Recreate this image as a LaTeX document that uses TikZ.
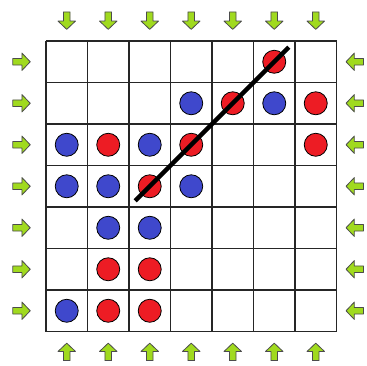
\documentclass[tikz,border=0pt]{standalone}
\usepackage{xcolor}
\usepackage{tikz}
\definecolor{dotred}{RGB}{237,28,36}
\definecolor{dotblue}{RGB}{63,72,204}
\definecolor{arrowgreen}{RGB}{160,218,30}
\tikzset{
  cellgrid/.style={line width=1.6pt, black!85},
  dot/.style={circle, draw=black, line width=0.8pt, minimum size=23pt, inner sep=0pt},
  red dot/.style={dot, fill=dotred},
  blue dot/.style={dot, fill=dotblue},
  diagline/.style={line width=4.5pt, black},
  greenarrow/.pic={
    \draw[black!70, line width=0.8pt, line join=round, fill=arrowgreen]
      (-0.2,-0.08) -- (0.02,-0.08) -- (0.02,-0.21) -- (0.22,0)
      -- (0.02,0.21) -- (0.02,0.08) -- (-0.2,0.08) -- cycle;}
}

\begin{document}
\begin{tikzpicture}[x=41.5pt, y=-41.5pt]
  \useasboundingbox (-1.108,-0.988) rectangle (7.735,7.807);
  % board
  \draw[cellgrid, step=41.5pt] (0,0) grid (7,7);
  % pieces: column/row/colour
  \foreach \c/\r/\clr in {6/1/red,
      4/2/blue, 5/2/red, 6/2/blue, 7/2/red,
      1/3/blue, 2/3/red, 3/3/blue, 4/3/red, 7/3/red,
      1/4/blue, 2/4/blue, 3/4/red, 4/4/blue,
      2/5/blue, 3/5/blue,
      2/6/red, 3/6/red,
      1/7/blue, 2/7/red, 3/7/red}
    \node[\clr\space dot] (dot-\c-\r) at (\c-0.5,\r-0.5) {};
  % winning line
  \coordinate (diagstart) at (2.15,3.85);
  \coordinate (diagend) at (5.85,0.15);
  \draw[diagline] (diagstart) -- (diagend);
  % arrows round the board
  \foreach \i in {1,...,7} {
    \pic[rotate=-90] at (\i-0.5,-0.5) {greenarrow};
    \pic[rotate=90] at (\i-0.5,7.5) {greenarrow};
    \pic at (-0.6,\i-0.5) {greenarrow};
    \pic[rotate=180] at (7.45,\i-0.5) {greenarrow};
  }
\end{tikzpicture}
\end{document}
